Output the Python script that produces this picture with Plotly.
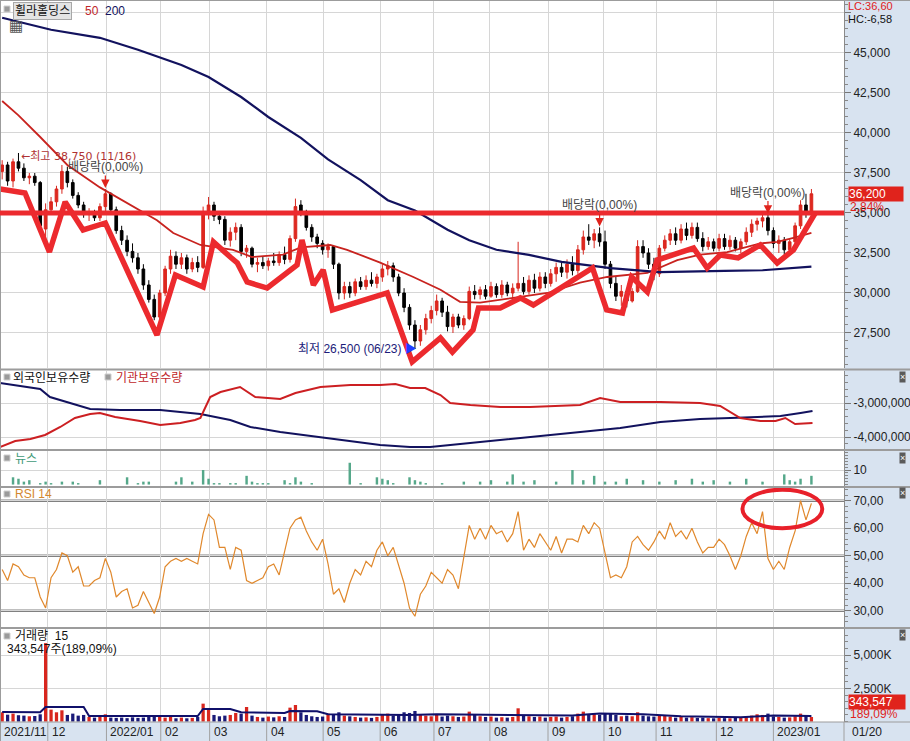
import plotly.graph_objects as go
from plotly.subplots import make_subplots

# ------------------------------------------------------------------ data
# candles: one candle per 2 trading days, 2021/11 .. 2023/01/20 (won)
opens = [37600,38000,37000,38200,37800,37200,37300,36900,34000,35200,
         35700,36500,37600,36900,36100,35500,34900,35000,34700,35400,
         36200,35200,33900,33300,32600,32200,31500,30500,29600,28500,
         30000,31500,32300,31800,32200,31500,31900,31600,35000,35500,
         34800,34600,33300,33800,34100,32600,32800,31800,31900,31700,
         32000,31900,32400,32100,33400,35500,35000,34100,33500,33100,
         32700,32900,31800,30000,30400,30000,30700,30400,30800,30600,
         31000,31500,31700,31000,30000,29100,28000,27000,27700,28400,
         28900,29500,28800,27900,28500,28000,28400,30100,29900,30200,
         29800,30400,29900,30500,30000,30300,30600,30100,30800,30300,
         31000,30600,31200,31600,31300,31800,31400,32700,33500,33300,
         33700,33200,31800,30600,29800,30100,29500,30100,32900,32500,
         31800,31200,32800,33300,33700,33300,34000,33600,34100,33400,
         32900,33200,32800,33400,32900,33300,32800,33200,33800,34300,
         34500,34700,33900,33100,33300,32700,33200,34200,35500,35000]
highs = [38300,38200,38400,38750,38100,37500,37500,37000,35600,36000,
         36700,38000,37900,37100,36300,35700,35300,35200,35600,36500,
         36300,35400,34200,33600,33100,32500,31800,30800,29900,30200,
         31700,32700,32600,32500,32400,32200,32300,35400,36000,35700,
         35100,34800,34100,34400,34300,33000,32900,32200,32300,32200,
         32500,32600,32900,33600,35900,35800,35200,34300,33700,33300,
         33100,33000,31900,30700,30700,30900,31000,31100,31300,31200,
         31800,32000,31900,31200,30300,29300,28300,28000,28700,29200,
         29900,29700,29200,28700,28700,28600,30400,30500,30400,30500,
         30700,30600,30800,30700,30600,33200,31000,31100,31200,31300,
         31300,31500,31900,32000,32100,32300,33000,33900,34300,34000,
         34100,33900,32000,31000,30500,30300,30300,33300,33300,32800,
         32200,33000,33600,34000,34100,34300,34400,34400,34400,33800,
         33500,33400,33700,33700,33600,33500,33400,34100,34600,34700,
         35000,34900,34100,33600,33500,33400,34400,35800,36200,36500]
lows = [37100,36700,36600,37600,37000,36800,36700,33900,33300,34900,
        35400,36200,36600,35900,35300,34700,34500,34500,34500,35100,
        35000,33700,33000,32300,31900,31200,30200,29400,28300,28300,
        29800,31200,31500,31500,31200,31300,31300,31500,34600,34500,
        34300,33000,32900,33300,32300,32200,31600,31300,31500,31400,
        31700,31700,31800,31900,33200,34800,33900,33200,32800,32400,
        32200,31500,29600,29600,29700,29800,30200,30200,30400,30300,
        30700,31100,30700,29800,28800,27700,26500,26700,27400,28100,
        28600,28500,27600,27500,27800,27700,28300,29600,29600,29600,
        29700,29700,29700,29800,29600,30100,29900,29900,30000,30100,
        30300,30400,30700,31000,30900,31100,31200,32400,33000,32800,
        32900,31500,30300,29500,29200,29100,29400,30000,32200,31500,
        30800,31000,32600,33000,33000,33100,33300,33400,33200,32600,
        32700,32600,32600,32700,32700,32600,32500,33000,33500,33900,
        34100,33600,32800,32500,32400,32500,33000,34000,34700,34800]
closes = [38000,37000,38200,37800,37200,37300,36900,34200,35200,35700,
          36500,37600,36900,36100,35500,34900,35000,34700,35400,36200,
          35200,33900,33300,32600,32200,31500,30500,29600,28500,30000,
          31500,32300,31800,32200,31500,31900,31600,35000,35500,34800,
          34600,33300,33800,34100,32600,32800,31800,31900,31700,32000,
          31900,32400,32100,33400,35400,35000,34100,33500,33100,32700,
          32900,31800,30000,30400,30000,30700,30400,30800,30600,31000,
          31500,31700,31000,30000,29100,28000,27000,27700,28400,28900,
          29500,28800,27900,28500,28000,28400,30100,29900,30200,29800,
          30400,29900,30500,30000,30300,30600,30100,30800,30300,31000,
          30600,31200,31600,31300,31800,31400,32700,33500,33300,33700,
          33200,31800,30600,29800,30100,29500,30100,32900,32500,31800,
          31200,32800,33300,33700,33300,34000,33600,34100,33400,32900,
          33200,32800,33400,32900,33300,32800,33200,33800,34300,34500,
          34700,33900,33100,33300,32700,33200,34200,35500,35000,36200]

ma50_idx = [0, 3, 7, 12, 18, 24, 28.5, 31.5, 36.5, 42.5, 46, 51.7, 55, 60.4, 63.5, 69.6,
            75.7, 80.7, 84.3, 88, 94, 100.4, 106.4, 111.4, 118.8, 124.3, 128.5, 133.5,
            139.6, 142.7, 145.7, 149]
ma50_val = [42000, 41100, 39750, 38000, 36600, 35400, 34550, 33750, 33000, 32700, 32250,
            32400, 32850, 33000, 32700, 31900, 31000, 30200, 29450, 29400, 29700, 30000,
            30650, 31000, 31250, 32050, 32400, 32550, 33100, 33200, 33450, 33750]
ma200_idx = [0, 9, 18, 25, 33, 38, 44, 49, 55, 60, 66, 71, 76, 82, 86, 91, 97, 103, 112,
             121, 133, 140, 149]
ma200_val = [47200, 46450, 45950, 45200, 44250, 43500, 42250, 41000, 39700, 38350, 37050,
             35800, 35150, 33950, 33300, 32700, 32380, 31950, 31550, 31300, 31380, 31420, 31650]

# hand-drawn trend line (zigzag) and horizontal resistance level
trend_idx = [-0.4, 4.2, 8.7, 11.6, 14.9, 19.0, 28.5, 31.9, 37.0, 38.9, 42.0, 43.3, 45.1,
             48.8, 54.3, 55.2, 57.3, 59.1, 60.8, 70.9, 75.5, 80.7, 82.9, 86.7, 87.7, 91.7,
             95.4, 97.8, 108.7, 111.3, 114.2, 115.9, 118.8, 120.6, 127.3, 129.8, 132.2,
             135.5, 139.6, 142.7, 145.7, 149.7]
trend_val = [36500, 36250, 32560, 35690, 33940, 34375, 27375, 31125, 30375, 33190, 32250,
             31875, 30690, 30310, 31750, 33310, 30500, 31440, 28940, 30000, 25690, 27190,
             26310, 27690, 29060, 29060, 29690, 29250, 31560, 28940, 28750, 31000, 30060,
             32060, 32810, 31560, 32375, 32190, 33000, 31875, 32690, 35000]
resistance = 35000

# holdings (shares)
frgn_idx = [-0.4, 7.0, 8.8, 12.5, 16.2, 21.7, 29.1, 32.8, 36.5, 42.0, 45.7, 51.2, 56.7,
            62.2, 65.9, 69.6, 75.1, 78.8, 82.5, 86.2, 91.7, 99.1, 106.4, 113.8, 121.2,
            128.5, 134.1, 139.6, 143.3, 147.0, 149.2]
frgn_val = [-2412000, -2588000, -2824000, -3000000, -3176000, -3206000, -3206000, -3265000,
            -3324000, -3500000, -3706000, -3853000, -3971000, -4088000, -4176000, -4235000,
            -4294000, -4294000, -4235000, -4176000, -4088000, -3971000, -3853000, -3735000,
            -3559000, -3471000, -3441000, -3412000, -3382000, -3294000, -3235000]
inst_idx = [-0.4, 2.4, 5.2, 7.9, 10.7, 13.4, 16.2, 18.0, 20.8, 25.4, 29.1, 32.8, 35.5,
            36.5, 38.3, 40.2, 43.8, 46.6, 51.2, 54.0, 58.6, 64.1, 69.6, 72.4, 75.1, 77.9,
            80.7, 82.5, 86.2, 91.7, 97.2, 102.8, 106.4, 110.1, 113.8, 121.2, 128.5, 132.2,
            135.9, 139.6, 142.4, 144.2, 146.0, 149.2]
inst_val = [-4294000, -4118000, -4059000, -3941000, -3706000, -3441000, -3324000, -3294000,
            -3412000, -3529000, -3647000, -3588000, -3500000, -3441000, -2824000, -2676000,
            -2529000, -2824000, -2882000, -2706000, -2529000, -2471000, -2471000, -2441000,
            -2559000, -2559000, -2765000, -3000000, -3059000, -3118000, -3118000, -3088000,
            -3059000, -2853000, -2971000, -2971000, -3000000, -3088000, -3441000, -3529000,
            -3529000, -3441000, -3618000, -3588000]

# news count
news_idx = [2,3,4,5,7,8,9,11,13,14,18,23,25,26,27,32,33,35,37,38,39,40,42,43,45,46,47,48,
            49,52,53,54,55,57,64,66,69,70,71,72,75,76,77,78,81,85,88,90,93,94,96,98,102,
            105,107,109,111,113,115,118,121,124,127,129,131,134,137,140,144,145,146,147,149]
news_val = [5,4,2,3,1,2,1,2,2,1,3,5,1,2,2,2,5,2,10,4,1,1,1,1,6,2,1,1,1,3,1,5,2,1,15,1,5,4,
            3,1,5,3,2,1,1,2,2,3,2,7,2,3,2,10,3,6,2,2,4,3,2,3,4,2,3,2,4,2,7,3,2,4,6]

# RSI 14
rsi = [45,41,47,46,43,42,42,35,31,42, 45,51,50,44,46,39,39,41,42,49,
       44,35,37,38,31,32,37,33,29,35, 46,48,49,48,49,48,47,58,65,63,
       53,53,45,53,52,41,40,41,42,46, 47,43,51,60,63,64,59,55,52,56,
       47,36,38,33,40,45,43,48,46,52, 55,50,53,46,40,31,28,36,39,44,
       42,40,45,43,38,49,61,56,60,56, 61,58,59,55,58,66,52,56,53,58,
       55,52,57,51,56,56,55,61,58,62, 60,51,42,43,42,46,55,57,54,52,
       55,59,56,62,57,59,56,60,55,51, 53,53,56,54,50,45,50,57,62,58,
       66,49,45,48,45,53,59,70,63,69]
rsi_mark = dict(i0=136.3, i1=151.0, lo=60, hi=74)

# volume (thousand shares) and its 15-day average
volume = [700,520,600,480,450,400,420,550,5900,900, 700,850,500,600,450,500,350,300,450,550,
          300,280,300,260,320,280,300,350,400,380, 300,420,250,300,250,280,350,1350,900,500,
          400,450,500,650,600,1100,450,350,300,380, 320,400,350,1050,1250,700,500,400,350,380,
          600,550,700,450,400,350,300,320,280,350, 500,600,450,500,700,650,800,550,450,400,
          500,380,450,400,350,380,750,500,400,350, 380,300,330,300,350,1000,450,400,350,380,
          300,350,380,300,350,400,600,750,550,600, 500,650,600,500,400,450,400,700,450,400,
          380,450,420,380,300,350,300,330,280,300, 260,250,280,260,250,280,300,400,450,550,
          500,600,380,350,300,320,400,600,450,343.547]
vol_ma_idx = [0, 7, 8, 15, 16, 36, 37, 42, 44, 52, 53, 58, 60, 75, 80, 95, 105, 110, 118,
              125, 136, 142, 149]
vol_ma_val = [720, 700, 1100, 1100, 420, 420, 950, 950, 700, 650, 800, 780, 550, 500, 550,
              500, 450, 600, 550, 400, 330, 450, 420]

div_idx = [19, 110, 141]          # ex-dividend candles
high_date, low_date = "11/16", "06/23"
month_pos = [8.4, 19.2, 29.2, 38.2, 48.7, 59.1, 69.6, 79.5, 89.8, 100.5, 110.8, 120.4, 131.5, 142.0]
month_labels = ["12", "2022/01", "02", "03", "04", "05", "06", "07", "08", "09", "10", "11", "12", "2023/01"]
first_label, last_label = "2021/11", "01/20"

# ------------------------------------------------------------------ layout helpers
W, H = 910, 741
PW, PH = 844, 722
def fx(p): return p / PW
def fy(p): return 1 - p / PH

FONT = "Liberation Sans, Noto Sans CJK KR, sans-serif"
NAVY = "#12125e"
XR = [-0.4, 155.0]
idx = list(range(len(closes)))

fig = make_subplots(rows=5, cols=1, shared_xaxes=True, vertical_spacing=0)

# price pane
fig.add_trace(go.Candlestick(x=idx, open=opens, high=highs, low=lows, close=closes,
                             increasing=dict(line=dict(color="#d8261e", width=1), fillcolor="#e0281f"),
                             decreasing=dict(line=dict(color="#000000", width=1), fillcolor="#000000"),
                             whiskerwidth=0, hoverinfo="skip"), row=1, col=1)
fig.add_trace(go.Scatter(x=ma50_idx, y=ma50_val, mode="lines", line=dict(color="#c8231f", width=1.8)), row=1, col=1)
fig.add_trace(go.Scatter(x=ma200_idx, y=ma200_val, mode="lines", line=dict(color=NAVY, width=2.2)), row=1, col=1)
fig.add_trace(go.Scatter(x=trend_idx, y=trend_val, mode="lines", line=dict(color="#ec2a2e", width=5.5)), row=1, col=1)

# holdings pane
fig.add_trace(go.Scatter(x=frgn_idx, y=frgn_val, mode="lines", line=dict(color=NAVY, width=2)), row=2, col=1)
fig.add_trace(go.Scatter(x=inst_idx, y=inst_val, mode="lines", line=dict(color="#cc1f22", width=2)), row=2, col=1)

# news pane
fig.add_trace(go.Bar(x=news_idx, y=news_val, width=0.45, marker=dict(color="#55a88a", line=dict(width=0))), row=3, col=1)

# RSI pane
fig.add_trace(go.Scatter(x=idx, y=rsi, mode="lines", line=dict(color="#e0882c", width=1.2)), row=4, col=1)

# volume pane
vcol = ["#d8261e" if c >= o else "#1a1a78" for o, c in zip(opens, closes)]
fig.add_trace(go.Bar(x=idx, y=volume, width=0.6, marker=dict(color=vcol, line=dict(width=0))), row=5, col=1)
fig.add_trace(go.Scatter(x=vol_ma_idx, y=vol_ma_val, mode="lines", line=dict(color="#10106a", width=2)), row=5, col=1)

domains = [(fy(368), 1.0), (fy(449), fy(371)), (fy(486), fy(451)), (fy(627), fy(488)), (0.0, fy(629))]
ranges = [[25312, 48312], [-4353000, -2059000], [-1.0, 23.1], [24.1, 74.6], [-30, 6962]]
p_ticks = [27500, 30000, 32500, 35000, 37500, 40000, 42500, 45000, 47500]
tick_sets = [
    (p_ticks, [f"{v:,}" if v < 47500 else "" for v in p_ticks], 500),
    ([-3000000, -4000000], ["-3,000,000", "-4,000,000"], 200000),
    ([10], ["10"], 2),
    ([30, 40, 50, 60, 70], ["30,00", "40,00", "50,00", "60,00", "70,00"], 2),
    ([2500, 5000], ["2,500K", "5,000K"], 500),
]
for k in range(5):
    n = "" if k == 0 else str(k + 1)
    tv, tt, mdt = tick_sets[k]
    fig.layout["yaxis" + n].update(
        domain=list(domains[k]), range=ranges[k], side="right", tickmode="array", tickvals=tv, ticktext=tt,
        ticks="outside", ticklen=6, tickcolor="#777", showline=True, linecolor="#8a8a8a", linewidth=1,
        showgrid=True, gridcolor="#d6d6d6", gridwidth=1, zeroline=False, fixedrange=True,
        tickfont=dict(family=FONT, size=12, color="#222"),
        minor=dict(ticks="outside", ticklen=3, tickcolor="#888", dtick=mdt, tick0=0, showgrid=False))
    fig.layout["xaxis" + n].update(
        range=XR, tickmode="array", tickvals=month_pos, showticklabels=False, showgrid=True,
        gridcolor="#d6d6d6", gridwidth=1, zeroline=False, showline=False, ticks="", fixedrange=True,
        rangeslider=dict(visible=False))

shapes = []
LB = -19 / PH
# right axis panel and date strip
shapes.append(dict(type="rect", xref="paper", yref="paper", x0=1, x1=W / PW, y0=LB, y1=1,
                   fillcolor="#d8e3f0", line=dict(width=0), layer="below"))
shapes.append(dict(type="rect", xref="paper", yref="paper", x0=0, x1=1, y0=LB, y1=0,
                   fillcolor="#d8e3f0", line=dict(width=0), layer="below"))
# frame + pane separators
for p in [369.5, 450, 487, 628]:
    shapes.append(dict(type="line", xref="paper", yref="paper", x0=0, x1=W / PW, y0=fy(p), y1=fy(p),
                       line=dict(color="#9c9c9c", width=2)))
shapes.append(dict(type="line", xref="paper", yref="paper", x0=0, x1=W / PW, y0=fy(0.5), y1=fy(0.5),
                   line=dict(color="#9c9c9c", width=1)))
shapes.append(dict(type="line", xref="paper", yref="paper", x0=0, x1=W / PW, y0=0, y1=0,
                   line=dict(color="#9c9c9c", width=1)))
shapes.append(dict(type="line", xref="paper", yref="paper", x0=fx(0.5), x1=fx(0.5), y0=LB, y1=1,
                   line=dict(color="#9c9c9c", width=1)))
# date strip dividers
for m in month_pos:
    shapes.append(dict(type="line", xref="x5", yref="paper", x0=m, x1=m, y0=LB, y1=0,
                       line=dict(color="#a0a0a0", width=1)))
shapes.append(dict(type="line", xref="paper", yref="paper", x0=1, x1=1, y0=LB, y1=0,
                   line=dict(color="#a0a0a0", width=1)))
# resistance line
shapes.append(dict(type="line", xref="paper", yref="y", x0=0, x1=1, y0=resistance, y1=resistance,
                   line=dict(color="#ec2a2e", width=5)))
# RSI reference lines
for v in [30, 50, 70]:
    shapes.append(dict(type="line", xref="paper", yref="y4", x0=0, x1=1, y0=v, y1=v,
                       line=dict(color="#808080", width=2.5), layer="between"))
# RSI highlight ellipse
shapes.append(dict(type="circle", xref="x4", yref="y4", x0=rsi_mark["i0"], x1=rsi_mark["i1"],
                   y0=rsi_mark["lo"], y1=rsi_mark["hi"], line=dict(color="#e8202a", width=4)))
# small square markers before pane titles
for (sx, sy) in [(4, 9), (4, 377), (105, 377), (4, 458), (4, 494), (4, 636)]:
    shapes.append(dict(type="rect", xref="paper", yref="paper", x0=fx(sx), x1=fx(sx + 6),
                       y0=fy(sy + 3), y1=fy(sy - 3), fillcolor="#9a9a9a", line=dict(color="#cfcfcf", width=1)))

ann = []
def txt(x, y, s, color="#111", size=12, xanchor="left", **kw):
    d = dict(x=x, y=y, xref="paper", yref="paper", text=s, showarrow=False, xanchor=xanchor,
             yanchor="middle", font=dict(family=FONT, size=size, color=color))
    d.update(kw)
    ann.append(d)

txt(fx(13), fy(11), "휠라홀딩스", bgcolor="#e4e4e4", bordercolor="#a8a8a8", borderwidth=1, borderpad=1)
txt(fx(83), fy(11), "50", color="#c0262a")
txt(fx(103), fy(11), "200", color=NAVY)
txt(fx(7), fy(26), "▦", font=dict(family="DejaVu Sans", size=15, color="#555"))
txt(fx(11), fy(378), "외국인보유수량", color="#111")
txt(fx(114), fy(378), "기관보유수량", color="#c0262a")
txt(fx(13), fy(459), "뉴스", color="#3f9a78")
txt(fx(13), fy(494), "RSI 14", color="#d4872e")
txt(fx(13), fy(636), "거래량  15", color="#111")
txt(fx(5), fy(649), f"{volume[-1] * 1000:,.0f}주(189,09%)", color="#111")
# right panel texts
txt(fx(846), fy(6.5), "LC:36,60", color="#e02020", size=11)
txt(fx(846), fy(19), "HC:-6,58", color="#111", size=11)
ann.append(dict(x=fx(848), y=closes[-1], xref="paper", yref="y", text=f"{closes[-1]:,}", showarrow=False,
                xanchor="left", yanchor="middle", bgcolor="#e0231c", width=54, align="left", borderpad=0,
                font=dict(family=FONT, size=12, color="white")))
ann.append(dict(x=fx(848), y=closes[-1], xref="paper", yref="y", text="2,84%", showarrow=False,
                xanchor="left", yanchor="middle", yshift=-13, font=dict(family=FONT, size=12, color="#e0231c")))
txt(fx(848), fy(702), f"{volume[-1] * 1000:,.0f}", color="white", bgcolor="#e0231c", width=56, align="left", borderpad=0)
txt(fx(848), fy(714), "189,09%", color="#e0231c")
for yy in [377, 458, 493, 635]:
    txt(fx(903), fy(yy), "×", color="white", size=9, xanchor="center", bgcolor="#5a5a5a", borderpad=0)
# date strip labels
ann.append(dict(x=XR[0], y=LB / 2, xref="x5", yref="paper", text=first_label, showarrow=False,
                xanchor="left", yanchor="middle", xshift=2, font=dict(family=FONT, size=12, color="#222")))
for m, lab in zip(month_pos, month_labels):
    ann.append(dict(x=m, y=LB / 2, xref="x5", yref="paper", text=lab, showarrow=False,
                    xanchor="left", yanchor="middle", xshift=2, font=dict(family=FONT, size=12, color="#222")))
txt(fx(850), LB / 2, last_label, color="#222")
# price annotations
hi_i = highs.index(max(highs))
lo_i = lows.index(min(lows))
ann.append(dict(x=hi_i, y=max(highs), xref="x", yref="y", text=f"←최고 {max(highs):,} ({high_date})",
                showarrow=False, xanchor="left", yanchor="middle", xshift=1, yshift=-4,
                font=dict(family="DejaVu Sans, Noto Sans CJK KR", size=11, color="#b03232")))
ann.append(dict(x=lo_i, y=min(lows), xref="x", yref="y",
                text=f"최저 {min(lows):,} ({low_date}) <span style='color:#1f3cff'>▶</span>",
                showarrow=False, xanchor="right", yanchor="middle", xshift=4,
                font=dict(family=FONT, size=12, color="#1c1c7a")))
for i in div_idx:
    ann.append(dict(x=i, y=highs[i], xref="x", yref="y", text="배당락(0,00%)", showarrow=True,
                    ax=0, ay=-22, arrowhead=2, arrowsize=1.4, arrowwidth=1.2, arrowcolor="#e0231c",
                    standoff=1, font=dict(family=FONT, size=12, color="#444")))

fig.update_layout(width=W, height=H, margin=dict(l=0, r=W - PW, t=0, b=H - PH),
                  paper_bgcolor="white", plot_bgcolor="white", showlegend=False, hovermode=False,
                  shapes=shapes, annotations=ann, font=dict(family=FONT, size=12))

fig.write_html("out.html", config={"displayModeBar": False, "staticPlot": True},
               post_script="document.body.style.margin='0';document.body.style.overflow='hidden';")
